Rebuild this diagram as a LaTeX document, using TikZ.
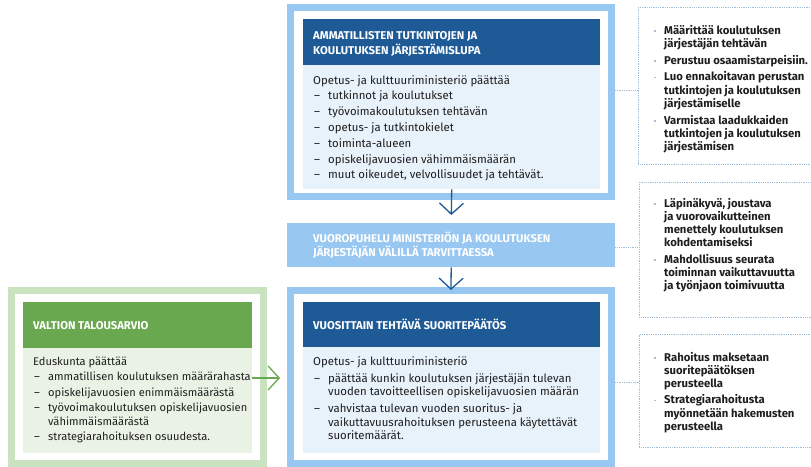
\documentclass[tikz,border=0pt]{standalone}
\usepackage{fontspec}
\setmainfont{Fira Sans}
\usetikzlibrary{arrows.meta}
\definecolor{frameblue}{RGB}{152,199,241}
\definecolor{darkblue}{RGB}{30,90,150}
\definecolor{bodyblue}{RGB}{232,242,251}
\definecolor{framegreen}{RGB}{201,226,191}
\definecolor{headgreen}{RGB}{106,168,79}
\definecolor{bodygreen}{RGB}{233,242,228}
\definecolor{dotcol}{RGB}{165,190,218}
\definecolor{txt}{RGB}{30,30,30}
\newcommand{\dashitem}{\makebox[15pt][l]{\hspace{1pt}–}}
\newcommand{\hangin}{\hspace*{15pt}}
\newcommand{\bul}{\makebox[10pt][l]{\textcolor{dotcol}{\rule[2.5pt]{1.8pt}{1.8pt}}}}
\newcommand{\hangb}{\hspace*{10pt}}
\begin{document}
\begin{tikzpicture}[x=1pt,y=-1pt,
  frame/.style={line width=7pt, anchor=north west, inner sep=0pt},
  panel/.style={anchor=north west, inner sep=0pt},
  headtxt/.style={anchor=base west, inner sep=0pt, text=white, font=\fontsize{11.3}{14.7}\selectfont\bfseries},
  bodytxt/.style={anchor=base west, inner sep=0pt, text=txt, font=\fontsize{11.4}{13.5}\selectfont},
  sidetxt/.style={anchor=base west, inner sep=0pt, text=txt, font=\fontsize{11.3}{13.3}\selectfont\bfseries},
  sidebox/.style={draw=dotcol, line width=0.9pt, dash pattern=on 0.9pt off 0.9pt, anchor=north west, inner sep=0pt, minimum width=190pt},
  dotline/.style={draw=dotcol, line width=0.9pt, dash pattern=on 0.9pt off 0.9pt},
  bluearrow/.style={draw=darkblue, line width=1.3pt, -{Straight Barb[length=11pt,width=24pt,line width=1.3pt]}},
  greenarrow/.style={draw=headgreen, line width=1.3pt, -{Straight Barb[length=11pt,width=24pt,line width=1.3pt]}},
]
\useasboundingbox (0,0) rectangle (811,466);
\begin{scope}
\clip (0,0) rectangle (811,466);
% top block
\node[frame, draw=frameblue, minimum width=321pt, minimum height=189pt] (f1) at (287,4) {};
\node[panel, fill=darkblue, minimum width=297pt, minimum height=46pt] (h1) at (303,19) {};
\node[panel, fill=bodyblue, minimum width=297pt, minimum height=124pt] (b1) at (303,65) {};
% banner
\node[panel, fill=frameblue, minimum width=328pt, minimum height=44pt] (bn) at (287,223) {};
% bottom block
\node[frame, draw=frameblue, minimum width=321pt, minimum height=173pt] (f3) at (287,287) {};
\node[panel, fill=darkblue, minimum width=297pt, minimum height=45pt] (h3) at (303,302) {};
\node[panel, fill=bodyblue, minimum width=297pt, minimum height=106pt] (b3) at (303,347) {};
% green block
\node[frame, draw=framegreen, minimum width=252pt, minimum height=173pt] (fg) at (8,287) {};
\node[panel, fill=headgreen, minimum width=229pt, minimum height=46pt] (gh) at (23,302) {};
\node[panel, fill=bodygreen, minimum width=229pt, minimum height=105pt] (gb) at (23,348) {};
% side boxes
\node[sidebox, minimum height=157pt] (r1) at (638,7) {};
\node[sidebox, minimum height=135pt] (r2) at (639,182) {};
\node[sidebox, minimum height=113pt] (r3) at (639,334) {};

% texts
\node[headtxt] (t1h) at (313,39.3) {\begin{tabular}[t]{@{}l@{}}AMMATILLISTEN TUTKINTOJEN JA\\KOULUTUKSEN JÄRJESTÄMISLUPA\end{tabular}};
\node[bodytxt] (t1b) at (313,84) {\begin{tabular}[t]{@{}l@{}}
Opetus- ja kulttuuriministeriö päättää\\[2.3pt]
\dashitem tutkinnot ja koulutukset\\[2.3pt]
\dashitem työvoimakoulutuksen tehtävän\\[2.3pt]
\dashitem opetus- ja tutkintokielet\\[2.3pt]
\dashitem toiminta-alueen\\[2.3pt]
\dashitem opiskelijavuosien vähimmäismäärän\\[2.3pt]
\dashitem muut oikeudet, velvollisuudet ja tehtävät.
\end{tabular}};
\node[headtxt] (tbn) at (313,242) {\begin{tabular}[t]{@{}l@{}}VUOROPUHELU MINISTERIÖN JA KOULUTUKSEN\\JÄRJESTÄJÄN VÄLILLÄ TARVITTAESSA\end{tabular}};
\node[headtxt] (t3h) at (313,329) {VUOSITTAIN TEHTÄVÄ SUORITEPÄÄTÖS};
\node[bodytxt] (t3b) at (313,365) {\begin{tabular}[t]{@{}l@{}}
Opetus- ja kulttuuriministeriö\\[3.5pt]
\dashitem päättää kunkin koulutuksen järjestäjän tulevan\\
\hangin vuoden tavoitteellisen opiskelijavuosien määrän\\[3.5pt]
\dashitem vahvistaa tulevan vuoden suoritus- ja\\
\hangin vaikuttavuusrahoituksen perusteena käytettävät\\
\hangin suoritemäärät.
\end{tabular}};
\node[headtxt] (tgh) at (33,329) {VALTION TALOUSARVIO};
\node[bodytxt, font=\fontsize{11.1}{13.5}\selectfont] (tgb) at (33,365) {\begin{tabular}[t]{@{}l@{}}
Eduskunta päättää\\[2pt]
\dashitem ammatillisen koulutuksen määrärahasta\\[2pt]
\dashitem opiskelijavuosien enimmäismäärästä\\[2pt]
\dashitem työvoimakoulutuksen opiskelijavuosien\\
\hangin vähimmäismäärästä\\[2pt]
\dashitem strategiarahoituksen osuudesta.
\end{tabular}};
\node[sidetxt] (s1) at (654,34) {\begin{tabular}[t]{@{}l@{}}
\bul Määrittää koulutuksen\\
\hangb järjestäjän tehtävän\\[3.5pt]
\bul Perustuu osaamistarpeisiin.\\[3.5pt]
\bul Luo ennakoitavan perustan\\
\hangb tutkintojen ja koulutuksen\\
\hangb järjestämiselle\\[3.5pt]
\bul Varmistaa laadukkaiden\\
\hangb tutkintojen ja koulutuksen\\
\hangb järjestämisen
\end{tabular}};
\node[sidetxt] (s2) at (654,207) {\begin{tabular}[t]{@{}l@{}}
\bul Läpinäkyvä, joustava\\
\hangb ja vuorovaikutteinen\\
\hangb menettely koulutuksen\\
\hangb kohdentamiseksi\\[3pt]
\bul Mahdollisuus seurata\\
\hangb toiminnan vaikuttavuutta\\
\hangb ja työnjaon toimivuutta
\end{tabular}};
\node[sidetxt] (s3) at (654,361) {\begin{tabular}[t]{@{}l@{}}
\bul Rahoitus maksetaan\\
\hangb suoritepäätöksen\\
\hangb perusteella\\[3pt]
\bul Strategiarahoitusta\\
\hangb myönnetään hakemusten\\
\hangb perusteella
\end{tabular}};

% connectors
\coordinate (gy) at (0,378);
\coordinate (c1) at (0,90);
\coordinate (c2) at (0,247);
\coordinate (c3) at (0,382);
\draw[bluearrow, shorten >=8pt] (b1.south) -- (bn.north);
\draw[bluearrow, shorten >=-3pt] (bn.south) -- (f3.north);
\draw[greenarrow, shorten >=7pt] (gb.east |- gy) -- (f3.west |- gy);
\draw[dotline] (f1.east |- c1) -- (r1.west |- c1);
\draw[dotline] (bn.east |- c2) -- (r2.west |- c2);
\draw[dotline] (f3.east |- c3) -- (r3.west |- c3);
\end{scope}
\end{tikzpicture}
\end{document}
